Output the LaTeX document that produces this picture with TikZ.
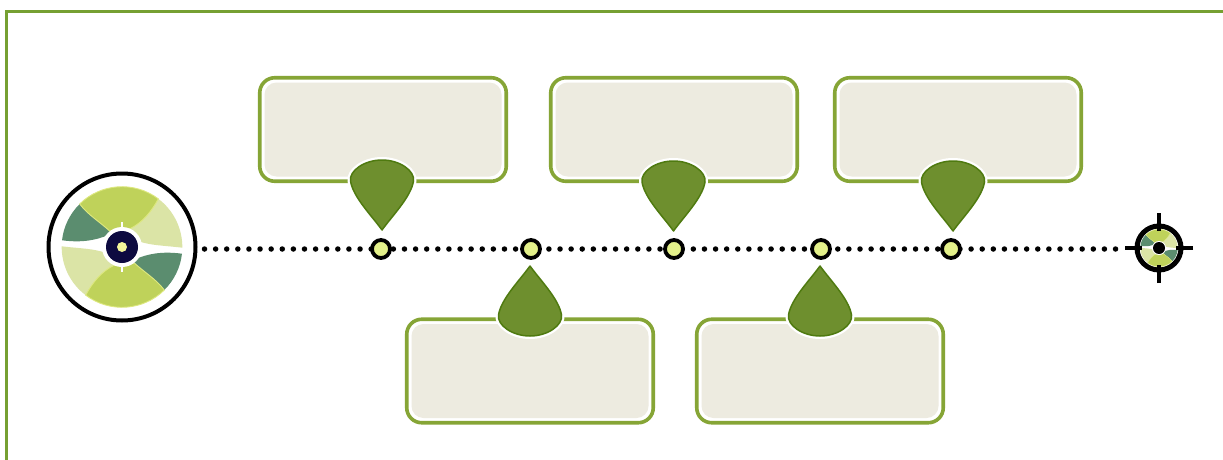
\documentclass[tikz,border=0pt]{standalone}
\definecolor{frameC}{HTML}{76A032}
\definecolor{boxEdge}{HTML}{86A536}
\definecolor{boxFill}{HTML}{EDEBE0}
\definecolor{dropFill}{HTML}{6E8F2E}
\definecolor{dropEdge}{HTML}{4F7A10}
\definecolor{petalMain}{HTML}{BFD25A}
\definecolor{petalPale}{HTML}{DBE4A6}
\definecolor{petalDark}{HTML}{5B8D6F}
\definecolor{petalLine}{HTML}{DDE87E}
\definecolor{hubNavy}{HTML}{0D0A40}
\definecolor{hubCore}{HTML}{F3F59A}
\definecolor{wayFill}{HTML}{E3F08A}
\tikzset{
  x=1pt,y=1pt,
  panel/.style={draw=boxEdge,line width=3.6pt,fill=white,rounded corners=15pt,minimum width=246.5pt,minimum height=103.5pt,inner sep=0pt,outer sep=0pt},
  panelinner/.style={fill=boxFill,rounded corners=12pt,minimum width=237pt,minimum height=94pt,inner sep=0pt,outer sep=0pt},
  waypoint/.style={circle,draw=black,line width=3.8pt,fill=wayFill,minimum size=18pt,inner sep=0pt,outer sep=0pt},
  dotline/.style={line width=5.5pt,line cap=round,dash pattern=on 0pt off 11.11pt,draw=black},
  dropbody/.style={fill=dropFill,draw=dropEdge,line width=1.5pt,line join=round},
  drophalo/.style={draw=white,line width=6pt,line join=round},
  ringnode/.style={circle,draw=black,fill=white,inner sep=0pt,outer sep=0pt},
  crossline/.style={draw=black,line width=3.4pt}
}
\newcommand{\dropshape}{(0,-47) .. controls (-10,-33) and (-29,-14) .. (-31.5,2) .. controls (-33,12) and (-18,23) .. (0,23) .. controls (18,23) and (33,12) .. (31.5,2) .. controls (29,-14) and (10,-33) .. (0,-47) -- cycle}
\newcommand{\dropat}[3]{\begin{scope}[shift={(#1,#2)},yscale=#3]
  \draw[drophalo] \dropshape;
  \draw[dropbody] \dropshape;
\end{scope}}
\newcommand{\halfpetals}[1]{%
  \fill[petalDark] (-42.3,43) arc[start angle=134.5,end angle=173.6,radius=60.3]
     .. controls (-40,4) and (-25,7) .. (-14,12) -- (-12,15.7)
     .. controls (-22,25) and (-34,32) .. (-42.3,43) -- cycle;
  \fill[petalPale] (36.3,48.2) arc[start angle=53,end angle=-0.7,radius=60.3]
     .. controls (42,1.5) and (28,1.5) .. (16,6) -- (8,18.3)
     .. controls (20,24) and (30,36) .. (36.3,48.2) -- cycle;
  \filldraw[fill=petalMain,draw=petalLine,line width=#1] (-42.3,43) arc[start angle=134.5,end angle=53,radius=60.3]
     .. controls (30,36) and (20,24) .. (8,18.3) -- (-12,15.7)
     .. controls (-22,25) and (-34,32) .. (-42.3,43) -- cycle;
}
\newcommand{\petalset}[4]{\begin{scope}[shift={(#1,#2)},scale=#3]
  \halfpetals{#4}
  \begin{scope}[rotate=180]\halfpetals{#4}\end{scope}
\end{scope}}
\begin{document}
\begin{tikzpicture}
\useasboundingbox (0,-460) rectangle (1223,0);
\fill[white] (0,-460) rectangle (1223,0);
\draw[frameC,line width=2.7pt] (6.3,-460) -- (6.3,-11.3) -- (1223,-11.3);

% boxes
\node[panel] (boxA) at (383,-129.5) {};
\node[panel] (boxB) at (674,-129.5) {};
\node[panel] (boxC) at (958,-129.5) {};
\node[panel] (boxD) at (530,-371) {};
\node[panel] (boxE) at (820,-371) {};
\node[panelinner] (boxAi) at (boxA) {};
\node[panelinner] (boxBi) at (boxB) {};
\node[panelinner] (boxCi) at (boxC) {};
\node[panelinner] (boxDi) at (boxD) {};
\node[panelinner] (boxEi) at (boxE) {};

% terminals
\node[ringnode,line width=4pt,minimum size=147pt] (start) at (122,-247) {};
\node[ringnode,line width=5pt,minimum size=44pt] (target) at (1159,-248) {};

% dotted line
\draw[dotline,shorten <=9pt,shorten >=21pt] (start.east |- 0,-249) -- (target.west |- 0,-249);

% drops
\dropat{382}{-183}{1}
\dropat{673.5}{-184}{1}
\dropat{953}{-184}{1}
\dropat{530}{-313}{-1}
\dropat{820}{-313}{-1}

% waypoints
\node[waypoint] (w1) at (381,-249) {};
\node[waypoint] (w2) at (531,-249) {};
\node[waypoint] (w3) at (674,-249) {};
\node[waypoint] (w4) at (821,-249) {};
\node[waypoint] (w5) at (951,-249) {};

% big icon
\petalset{122}{-247}{1}{0.9pt}
\fill[white] (122,-247) circle (20);
\fill[white] (120.6,-222) rectangle (123.4,-272);
\node[circle,fill=hubNavy,minimum size=32pt,inner sep=0pt] (hub) at (122,-247) {};
\node[circle,fill=hubCore,minimum size=10pt,inner sep=0pt] (core) at (hub) {};

% small icon
\petalset{1159}{-248}{0.31}{0.3pt}
\fill[white] (1159,-248) circle (7);
\node[circle,fill=black,minimum size=12pt,inner sep=0pt] (hubS) at (target) {};
\draw[crossline] (target.north) ++(0,13) -- ++(0,-18);
\draw[crossline] (target.south) ++(0,-13) -- ++(0,18);
\draw[crossline] (target.west) ++(-12,0) -- ++(17,0);
\draw[crossline] (target.east) ++(12,0) -- ++(-17,0);
\end{tikzpicture}
\end{document}
